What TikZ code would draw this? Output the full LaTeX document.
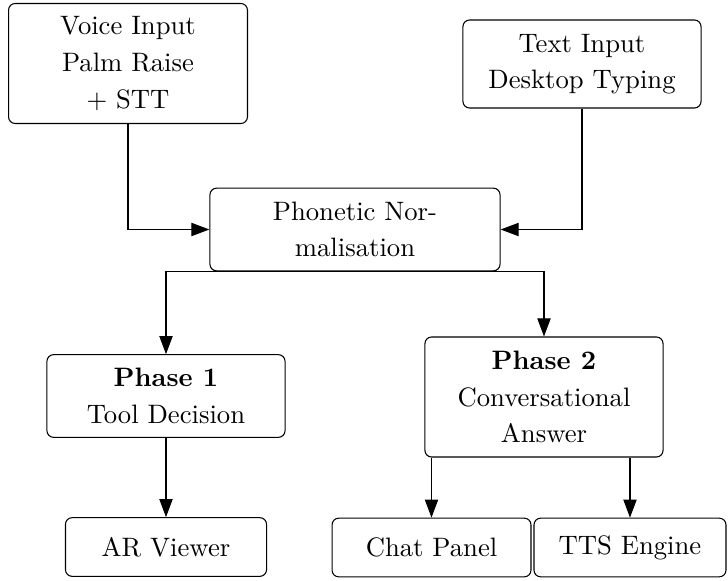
\documentclass[tikz,border=0pt]{standalone}
\usetikzlibrary{arrows.meta}
\begin{document}
\begin{tikzpicture}[x=0.375pt,y=-0.375pt,
  box/.style={draw,black,rounded corners=2.5pt,align=center,inner sep=0pt,
    font=\fontsize{10}{13.7}\selectfont,minimum height=#1},
  box/.default=22pt,
  arr/.style={-{Triangle[length=6.8pt,width=5pt]},black}]

\useasboundingbox (0,0) rectangle (728,581);

      % inputs
\node[box=45pt,minimum width=89.6pt] (voice) at (128,63.5) {Voice Input\\Palm Raise\\+ STT};
\node[box=33pt,minimum width=89.3pt] (text) at (582,64) {Text Input\\Desktop Typing};
\node[box=31pt,minimum width=108.8pt] (phon) at (355,229.5) {Phonetic Nor-\\malisation};

      % phases
\node[box=31pt,minimum width=89.3pt] (phase1) at (166,396) {\textbf{Phase 1}\\Tool Decision};
\node[box=45pt,minimum width=89.3pt] (phase2) at (544,397) {\textbf{Phase 2}\\Conversational\\Answer};

      % outputs
\node[box,minimum width=75.4pt] (ar) at (166,547) {AR Viewer};
\node[box,minimum width=74.6pt] (chat) at (431.5,547.5) {Chat Panel};
\node[box,minimum width=72pt] (tts) at (630,547.5) {TTS Engine};

\draw[arr] (voice.south) |- (phon.west);
\draw[arr] (text.south) |- (phon.east);
\draw[arr] (phon.south) -| (phase1.north);
\draw[arr] (phon.south) -| (phase2.north);
\draw[arr] (phase1) -- (ar);
\foreach \n in {chat,tts}
	\draw[arr] (\n.north |- phase2.south) -- (\n.north);

    \end{tikzpicture}
\end{document}
